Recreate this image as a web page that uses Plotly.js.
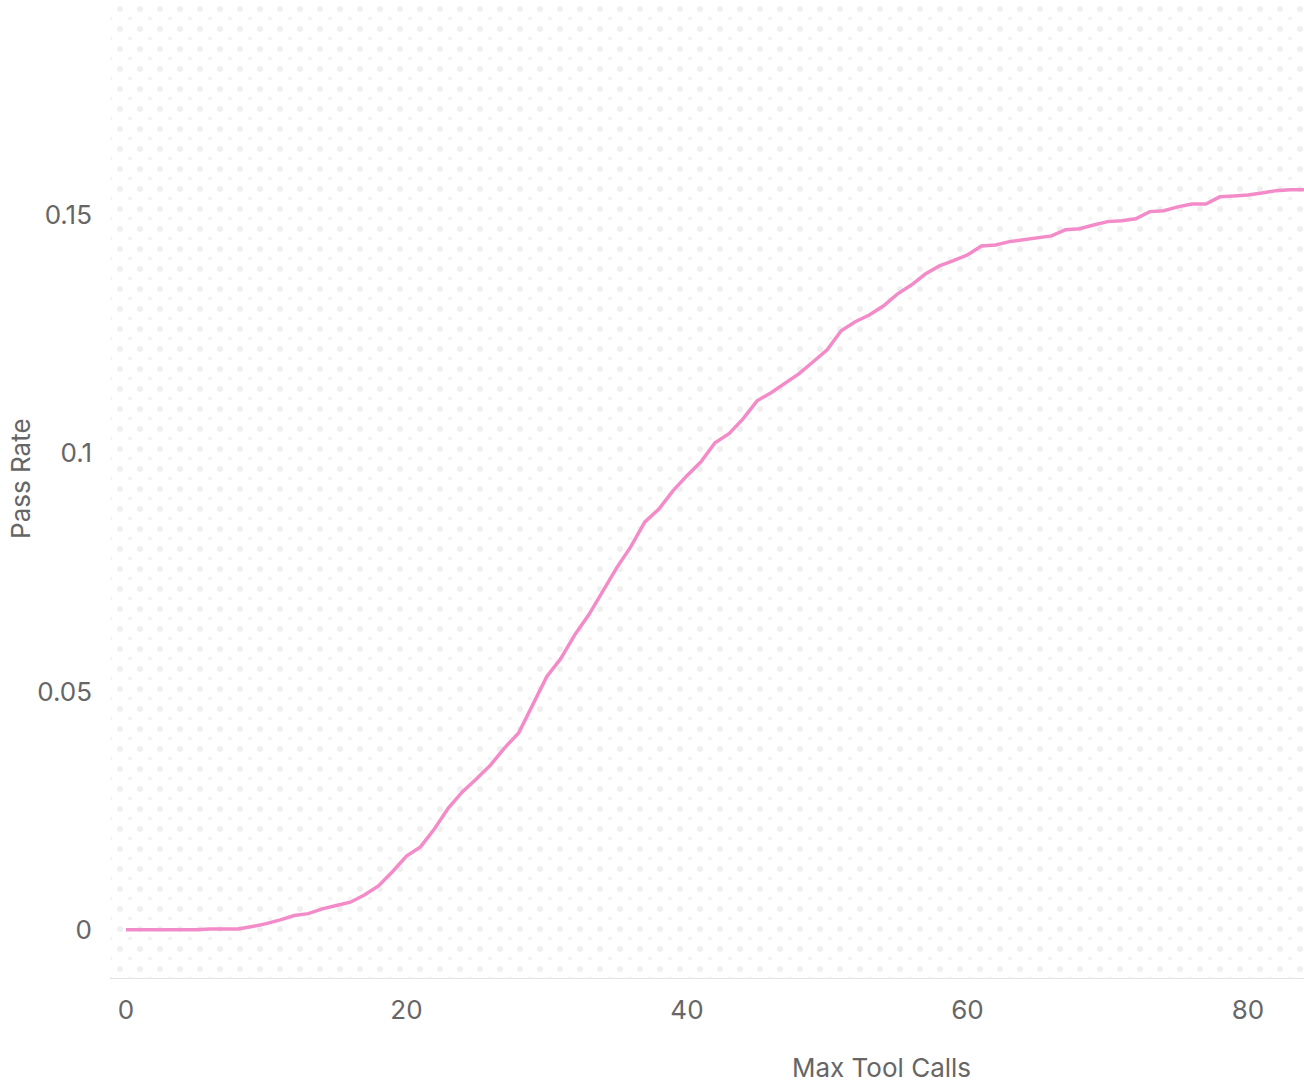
<!DOCTYPE html>
<html>
<head>
<meta charset="utf-8">
<script src="https://cdn.plot.ly/plotly-3.0.1.min.js"></script>
<style>html,body{margin:0;padding:0;background:#fff;}#chart{width:1304px;height:1086px;}</style>
</head>
<body>
<div id="chart"></div>
<script>
const maxToolCalls = [0,1,2,3,4,5,6,7,8,9,10,11,12,13,14,15,16,17,18,19,20,21,22,23,24,25,26,27,28,29,30,31,32,33,34,35,36,37,38,39,40,41,42,43,44,45,46,47,48,49,50,51,52,53,54,55,56,57,58,59,60,61,62,63,64,65,66,67,68,69,70,71,72,73,74,75,76,77,78,79,80,81,82,83,84];
const passRate = [0,0,0,0,0,0,0.0002,0.0002,0.0002,0.0007,0.0013,0.0021,0.003,0.0034,0.0044,0.0051,0.0058,0.0073,0.0092,0.0122,0.0155,0.0174,0.0212,0.0256,0.029,0.0317,0.0346,0.0382,0.0413,0.0472,0.0531,0.0569,0.0619,0.0661,0.0709,0.076,0.0804,0.0856,0.0883,0.0921,0.0953,0.0982,0.1022,0.1041,0.1072,0.111,0.1127,0.1146,0.1167,0.1192,0.1217,0.1257,0.1276,0.129,0.1309,0.1334,0.1353,0.1376,0.1393,0.1404,0.1416,0.1435,0.1437,0.1444,0.1448,0.1452,0.1456,0.1469,0.1471,0.1479,0.1486,0.1488,0.1492,0.1507,0.1509,0.1517,0.1523,0.1523,0.1538,0.154,0.1542,0.1546,0.1551,0.1553,0.1553];
const yTickVals = [0, 0.05, 0.1, 0.15];
const yTickText = ['0', '0.05', '0.1', '0.15'];
const xTickVals = [0, 20, 40, 60, 80];

const dotSvg = '<svg xmlns="http://www.w3.org/2000/svg" width="1194" height="978">' +
  '<defs><pattern id="p" x="0" y="0" width="20" height="20" patternUnits="userSpaceOnUse">' +
  '<circle cx="10" cy="9" r="3" fill="#f0f0f0"/>' +
  '<circle cx="0" cy="19" r="2.5" fill="#f4f4f4"/>' +
  '<circle cx="20" cy="19" r="2.5" fill="#f4f4f4"/>' +
  '</pattern></defs><rect width="1194" height="978" fill="url(#p)"/></svg>';
const dotUri = 'data:image/svg+xml;base64,' + btoa(dotSvg);

const trace = {
  x: maxToolCalls,
  y: passRate,
  type: 'scatter',
  mode: 'lines',
  line: {color: '#F38BC9', width: 3.5},
  hoverinfo: 'x+y'
};

const font = {family: 'Inter, "Noto Sans", sans-serif', color: '#666666'};

const layout = {
  width: 1304,
  height: 1086,
  margin: {l: 110, r: 0, t: 0, b: 108},
  paper_bgcolor: '#ffffff',
  plot_bgcolor: '#ffffff',
  showlegend: false,
  font: font,
  xaxis: {
    range: [-1.14, 84],
    tickvals: xTickVals,
    ticktext: xTickVals.map(String),
    showgrid: false,
    zeroline: false,
    showline: true,
    linecolor: '#e3e3e3',
    linewidth: 1,
    ticks: '',
    ticklabelstandoff: 9,
    tickfont: {family: font.family, size: 26, color: '#666666'}
  },
  yaxis: {
    range: [-0.0101, 0.1951],
    tickvals: yTickVals,
    ticktext: yTickText,
    showgrid: false,
    zeroline: false,
    showline: false,
    ticks: '',
    ticklabelstandoff: 17,
    tickfont: {family: font.family, size: 26, color: '#666666'}
  },
  images: [{
    source: dotUri,
    xref: 'paper', yref: 'paper',
    x: 0, y: 1, sizex: 1, sizey: 1,
    xanchor: 'left', yanchor: 'top',
    sizing: 'stretch',
    layer: 'below'
  }],
  annotations: [
    {text: 'Max Tool Calls', xref: 'paper', yref: 'paper', x: (881 - 110) / 1194, y: -0.0920, xanchor: 'center', yanchor: 'middle', showarrow: false, font: {family: font.family, size: 26, color: '#666666'}},
    {text: 'Pass Rate', xref: 'paper', yref: 'paper', x: -0.0754, y: 1 - 478 / 978, xanchor: 'center', yanchor: 'middle', textangle: -90, showarrow: false, font: {family: font.family, size: 26, color: '#666666'}}
  ]
};

Plotly.newPlot('chart', [trace], layout, {displayModeBar: false, responsive: false});
</script>
</body>
</html>
